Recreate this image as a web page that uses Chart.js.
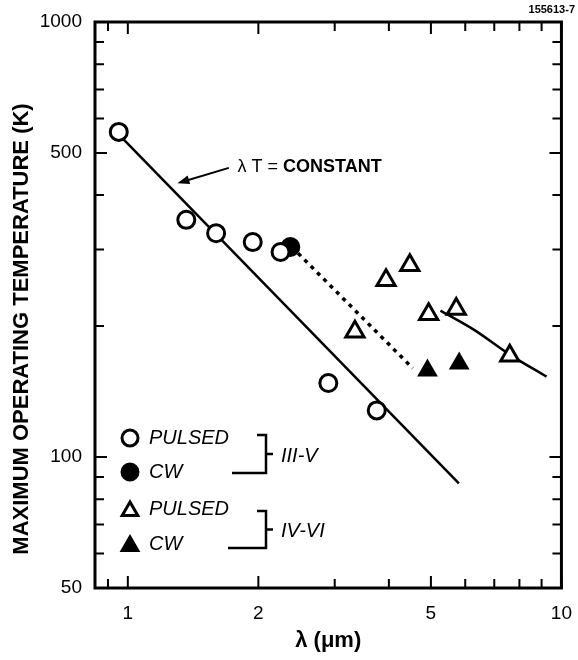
<!DOCTYPE html>
<html>
<head>
<meta charset="utf-8">
<script src="https://cdn.jsdelivr.net/npm/chart.js@4.4.1/dist/chart.umd.min.js"></script>
<style>
  body { margin: 0; background: #fff; }
</style>
</head>
<body>
<canvas id="chart" width="578" height="660"></canvas>
<script>
// wavelength (um) / max operating temperature (K)
const iiiPulsedX = [0.953, 1.364, 1.598, 1.941, 2.25, 2.90, 3.75];
const iiiPulsedY = [559, 351, 327, 312, 296, 148, 128];
const iiiCwX = [2.37];
const iiiCwY = [304];
const ivPulsedX = [3.34, 3.94, 4.47, 4.94, 5.72, 7.60];
const ivPulsedY = [194, 255, 276, 213, 219, 171];
const ivCwX = [4.91, 5.81];
const ivCwY = [158, 164];

const constLineX = [0.955, 5.8];
const constLineY = [550, 87];
const dottedX = [2.47, 4.54];
const dottedY = [294, 160];
const curveX = [5.26, 6.29, 7.60, 9.24];
const curveY = [217, 196, 172, 153];

const xTicks = [0.9, 1, 2, 3, 4, 5, 6, 7, 8, 9, 10];
const xLabels = [1, 2, 5, 10];
const yTicks = [50, 60, 70, 80, 90, 100, 200, 300, 400, 500, 600, 700, 800, 900, 1000];
const yLabels = [50, 100, 500, 1000];

const noteAt = [1.79, 464];
const arrowFrom = [1.71, 462];
const arrowTo = [1.301, 426];

const FONT = "'Liberation Sans', Arial, Helvetica, sans-serif";

function pts(xs, ys) {
    return xs.map((x, i) => ({ x: x, y: ys[i] }));
}

const frame = {
    id: 'frame',
    afterDraw(chart) {
        const ctx = chart.ctx;
        const a = chart.chartArea;
        const sx = chart.scales.x, sy = chart.scales.y;
        const H = Chart.helpers;

        ctx.save();
        ctx.strokeStyle = '#000';
        ctx.fillStyle = '#000';
        ctx.lineWidth = 3;
        ctx.strokeRect(a.left, a.top, a.right - a.left, a.bottom - a.top);

        // inward ticks on all four sides
        ctx.lineWidth = 2;
        ctx.beginPath();
        yTicks.forEach(v => {
            const py = sy.getPixelForValue(v), len = yLabels.includes(v) ? 12 : 9;
            ctx.moveTo(a.left, py); ctx.lineTo(a.left + len, py);
            ctx.moveTo(a.right, py); ctx.lineTo(a.right - len, py);
        });
        xTicks.forEach(v => {
            const px = sx.getPixelForValue(v), len = xLabels.includes(v) ? 12 : 9;
            ctx.moveTo(px, a.bottom); ctx.lineTo(px, a.bottom - len);
            ctx.moveTo(px, a.top); ctx.lineTo(px, a.top + len);
        });
        ctx.stroke();

        // lambda T = constant note with arrow
        const x0 = sx.getPixelForValue(arrowFrom[0]), y0 = sy.getPixelForValue(arrowFrom[1]);
        const x1 = sx.getPixelForValue(arrowTo[0]), y1 = sy.getPixelForValue(arrowTo[1]);
        const ang = Math.atan2(y1 - y0, x1 - x0);
        ctx.lineWidth = 2;
        ctx.beginPath();
        ctx.moveTo(x0, y0);
        ctx.lineTo(x1 - 8 * Math.cos(ang), y1 - 8 * Math.sin(ang));
        ctx.stroke();
        ctx.beginPath();
        ctx.moveTo(x1, y1);
        ctx.lineTo(x1 - 12 * Math.cos(ang) + 4.5 * Math.sin(ang), y1 - 12 * Math.sin(ang) - 4.5 * Math.cos(ang));
        ctx.lineTo(x1 - 12 * Math.cos(ang) - 4.5 * Math.sin(ang), y1 - 12 * Math.sin(ang) + 4.5 * Math.cos(ang));
        ctx.closePath();
        ctx.fill();

        const nx = sx.getPixelForValue(noteAt[0]), ny = sy.getPixelForValue(noteAt[1]);
        ctx.textBaseline = 'middle';
        ctx.textAlign = 'left';
        ctx.font = '18px ' + FONT;
        const pre = '\u03BB T = ';
        ctx.fillText(pre, nx, ny);
        const w = ctx.measureText(pre).width;
        ctx.font = 'bold 18px ' + FONT;
        ctx.fillText('CONSTANT', nx + w, ny);

        // legend with brackets
        const rows = [
            { style: 'circle', fill: '#fff', r: 8, text: 'PULSED', y: 438 },
            { style: 'circle', fill: '#000', r: 8, text: 'CW', y: 472 },
            { style: 'triangle', fill: '#fff', r: 9, text: 'PULSED', y: 509 },
            { style: 'triangle', fill: '#000', r: 9, text: 'CW', y: 544 }
        ];
        ctx.font = 'italic 20px ' + FONT;
        rows.forEach(row => {
            ctx.fillStyle = row.fill;
            ctx.strokeStyle = '#000';
            ctx.lineWidth = 3;
            H.drawPoint(ctx, { pointStyle: row.style, radius: row.r, borderWidth: 3 }, a.left + 35, row.y + (row.style === 'triangle' ? 2 : 0));
            ctx.fillStyle = '#000';
            ctx.fillText(row.text, a.left + 54, row.y);
        });

        const groups = [
            { top: 435, bottom: 473, start: 232, label: 'III-V' },
            { top: 511, bottom: 548, start: 228, label: 'IV-VI' }
        ];
        ctx.lineWidth = 2.5;
        groups.forEach(g => {
            const bx = 266, mid = (g.top + g.bottom) / 2;
            ctx.beginPath();
            ctx.moveTo(257, g.top); ctx.lineTo(bx, g.top); ctx.lineTo(bx, g.bottom); ctx.lineTo(g.start, g.bottom);
            ctx.moveTo(bx, mid); ctx.lineTo(bx + 7, mid);
            ctx.stroke();
            ctx.fillText(g.label, bx + 15, mid + 2);
        });

        // y axis title
        ctx.save();
        ctx.translate(22, 329);
        ctx.rotate(-Math.PI / 2);
        ctx.textAlign = 'center';
        ctx.font = 'bold 22px ' + FONT;
        ctx.fillText('MAXIMUM OPERATING TEMPERATURE (K)', 0, 0);
        ctx.restore();

        ctx.font = 'bold 11px ' + FONT;
        ctx.textAlign = 'right';
        ctx.fillText('155613-7', 575, 10);
        ctx.restore();
    }
};

const lineStyle = {
    type: 'line',
    showLine: true,
    pointRadius: 0,
    borderColor: '#000',
    borderWidth: 2.5,
    fill: false,
    order: 5
};

new Chart(document.getElementById('chart'), {
    type: 'scatter',
    plugins: [frame],
    data: {
        datasets: [
            Object.assign({}, lineStyle, { label: 'lambda T = constant', data: pts(constLineX, constLineY) }),
            Object.assign({}, lineStyle, { label: 'III-V to IV-VI', data: pts(dottedX, dottedY), borderWidth: 3.5, borderDash: [4, 5] }),
            Object.assign({}, lineStyle, { label: 'IV-VI fit', data: pts(curveX, curveY), cubicInterpolationMode: 'monotone' }),
            {
                label: 'III-V CW', data: pts(iiiCwX, iiiCwY), order: 3,
                pointStyle: 'circle', pointRadius: 8.5, pointBackgroundColor: '#000', pointBorderColor: '#000', pointBorderWidth: 3
            },
            {
                label: 'III-V pulsed', data: pts(iiiPulsedX, iiiPulsedY), order: 1,
                pointStyle: 'circle', pointRadius: 8.5, pointBackgroundColor: '#fff', pointBorderColor: '#000', pointBorderWidth: 3
            },
            {
                label: 'IV-VI pulsed', data: pts(ivPulsedX, ivPulsedY), order: 1,
                pointStyle: 'triangle', pointRadius: 10.5, pointBackgroundColor: '#fff', pointBorderColor: '#000', pointBorderWidth: 3
            },
            {
                label: 'IV-VI CW', data: pts(ivCwX, ivCwY), order: 1,
                pointStyle: 'triangle', pointRadius: 9.5, pointBackgroundColor: '#000', pointBorderColor: '#000', pointBorderWidth: 2.5
            }
        ]
    },
    options: {
        responsive: false,
        animation: false,
        events: [],
        layout: {
            padding: { top: 22, right: 13, left: 0, bottom: 0 }
        },
        plugins: {
            legend: { display: false },
            tooltip: { enabled: false }
        },
        scales: {
            x: {
                type: 'logarithmic',
                min: 0.84,
                max: 10,
                grid: { display: false },
                border: { display: false },
                afterBuildTicks: s => { s.ticks = xTicks.map(v => ({ value: v })); },
                afterFit: s => { s.height = 72; },
                ticks: {
                    autoSkip: false,
                    maxRotation: 0,
                    padding: 6,
                    color: '#000',
                    font: { family: FONT, size: 19 },
                    callback: v => xLabels.includes(v) ? String(v) : ''
                },
                title: {
                    display: true,
                    text: '\u03BB (\u03BCm)',
                    color: '#000',
                    font: { family: FONT, size: 22, weight: 'bold' },
                    padding: { top: 0, bottom: 6 }
                }
            },
            y: {
                type: 'logarithmic',
                min: 50,
                max: 1000,
                grid: { display: false },
                border: { display: false },
                afterBuildTicks: s => { s.ticks = yTicks.map(v => ({ value: v })); },
                afterFit: s => { s.width = 95; },
                ticks: {
                    autoSkip: false,
                    padding: 5,
                    color: '#000',
                    font: { family: FONT, size: 19 },
                    callback: v => yLabels.includes(v) ? String(v) : ''
                }
            }
        }
    }
});
</script>
</body>
</html>
